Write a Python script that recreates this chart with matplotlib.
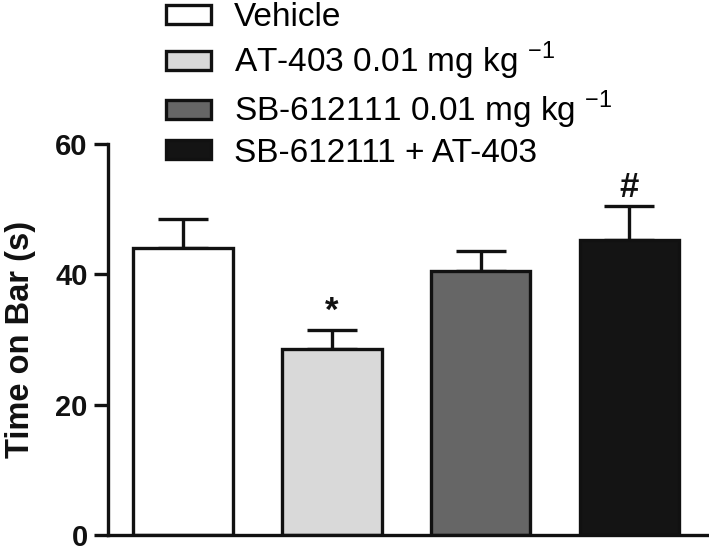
import numpy as np
import matplotlib
matplotlib.use('Agg')
import matplotlib.pyplot as plt
from matplotlib.patches import Patch

plt.rcParams['font.family'] = ['Liberation Sans', 'DejaVu Sans']
plt.rcParams['mathtext.fontset'] = 'custom'
plt.rcParams['mathtext.rm'] = 'Liberation Sans'

# Data
groups = ['Vehicle',
          'AT-403 0.01 mg kg $^{\\mathrm{-1}}$',
          'SB-612111 0.01 mg kg $^{\\mathrm{-1}}$',
          'SB-612111 + AT-403']
means = [44.1, 28.5, 40.5, 45.2]
sem = [4.3, 2.9, 3.0, 5.2]
marks = ['', '*', '', '#']
colors = ['#ffffff', '#d9d9d9', '#666666', '#141414']

fig = plt.figure(figsize=(7.09, 5.53), dpi=100)
ax = fig.add_axes([0.153, 0.032, 0.844, 0.708])

x = np.arange(len(means))
ax.errorbar(x, means, yerr=[np.zeros(len(sem)), sem], fmt='none',
            ecolor='#111111', elinewidth=2.4, capsize=18, capthick=2.4, zorder=1)
bars = ax.bar(x, means, width=0.67, color=colors, edgecolor='#111111',
              linewidth=2.4, zorder=2)

for i in range(len(means)):
    if marks[i]:
        ax.text(x[i], means[i] + sem[i] + 0.4, marks[i], ha='center', va='bottom',
                fontsize=25, fontweight='bold', color='#111111')

ax.set_xlim(-0.5, 3.52)
ax.set_ylim(0, 60)
ax.set_yticks([0, 20, 40, 60])
ax.set_xticks([])
ax.spines['top'].set_visible(False)
ax.spines['right'].set_visible(False)
ax.spines['left'].set_linewidth(2.4)
ax.spines['bottom'].set_linewidth(2.4)
ax.spines['left'].set_color('#111111')
ax.spines['bottom'].set_color('#111111')
ax.tick_params(axis='y', length=10, width=2.4, labelsize=21, colors='#111111', pad=5)
for lab in ax.get_yticklabels():
    lab.set_fontweight('bold')
ax.set_ylabel('Time on Bar (s)', fontsize=23.5, fontweight='bold', color='#111111', labelpad=14)

handles = [Patch(facecolor=c, edgecolor='#111111', linewidth=2.4) for c in colors]
fig.legend(handles, groups, loc='upper left', bbox_to_anchor=(0.215, 1.02),
           frameon=False, fontsize=24, handlelength=1.35, handleheight=0.5,
           handletextpad=0.7, labelspacing=0.2, borderaxespad=0)

fig.savefig('out.png', dpi=100)
